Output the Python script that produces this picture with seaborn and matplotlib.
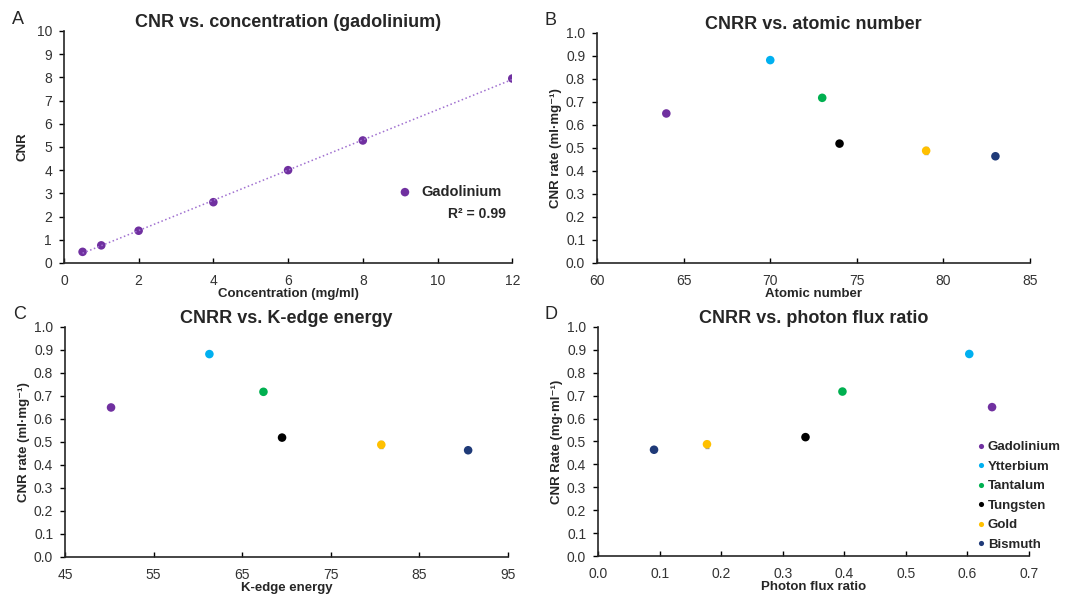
import numpy as np
import pandas as pd
import matplotlib
matplotlib.use("Agg")
import matplotlib.pyplot as plt
import seaborn as sns

# %% Data
conc = [0.5, 1, 2, 4, 6, 8, 12]
cnr = [0.48, 0.76, 1.39, 2.62, 4.00, 5.28, 7.95]

elements = ['Gadolinium', 'Ytterbium', 'Tantalum', 'Tungsten', 'Gold', 'Bismuth']
atomic_number = [64, 70, 73, 74, 79, 83]
kedge_energy = [50.2, 61.3, 67.4, 69.5, 80.7, 90.5]
flux_ratio = [0.640, 0.603, 0.397, 0.337, 0.177, 0.091]
cnrr = [0.650, 0.882, 0.718, 0.519, 0.488, 0.464]
cnrr_err = [0.004, 0.004, 0.004, 0.004, 0.016, 0.004]

colors = ['#7030A0', '#00B0F0', '#00B050', '#000000', '#FFC000', '#1F3A78']
palette = dict(zip(elements, colors))

df = pd.DataFrame({'Element': elements, 'Z': atomic_number, 'Kedge': kedge_energy,
                   'Flux': flux_ratio, 'CNRR': cnrr, 'err': cnrr_err})
conc_df = pd.DataFrame({'Concentration': conc, 'CNR': cnr})

# %% Style
sns.set_style('ticks')
plt.rcParams['font.family'] = ['Liberation Sans', 'DejaVu Sans']
plt.rcParams['axes.linewidth'] = 1.2
plt.rcParams['xtick.direction'] = 'in'
plt.rcParams['ytick.direction'] = 'out'

tick_col = '#333333'
title_kw = dict(fontsize=13, fontweight='bold', pad=-3)
label_kw = dict(fontsize=9.5, fontweight='bold')

fig = plt.figure(figsize=(10.65, 5.95), dpi=100)
axA = fig.add_axes([0.060, 0.558, 0.421, 0.390])
axB = fig.add_axes([0.5606, 0.558, 0.4066, 0.3866])
axC = fig.add_axes([0.061, 0.0639, 0.416, 0.3866])
axD = fig.add_axes([0.5615, 0.0655, 0.4047, 0.385])


def style_axis(ax):
    sns.despine(ax=ax)
    ax.tick_params(axis='both', labelsize=10, colors='black', labelcolor=tick_col,
                   length=3.5, width=1.0)
    ax.tick_params(axis='x', pad=8)
    ax.tick_params(axis='y', pad=5)


# %% Panel A
sns.regplot(data=conc_df, x='Concentration', y='CNR', ax=axA, ci=None, scatter=False,
            line_kws=dict(color='#A070D0', linestyle=':', linewidth=1.1))
sns.scatterplot(data=conc_df, x='Concentration', y='CNR', ax=axA, color='#7030A0',
                s=38, edgecolor='none', label='Gadolinium', legend=False)
axA.set_xlim(0, 12)
axA.set_ylim(0, 10)
axA.set_xticks(range(0, 13, 2))
axA.set_yticks(range(0, 11))
axA.set_title('CNR vs. concentration (gadolinium)', **title_kw)
axA.set_xlabel('Concentration (mg/ml)', labelpad=0, **label_kw)
axA.set_ylabel('CNR', labelpad=6, **label_kw)
style_axis(axA)
h, l = axA.get_legend_handles_labels()
axA.legend(h[-1:], l[-1:], loc='center left', bbox_to_anchor=(0.72, 0.306), frameon=False,
           prop=dict(weight='bold', size=10.5), handletextpad=0.4, borderpad=0,
           handlelength=1.5)
axA.text(0.985, 0.21, 'R² = 0.99', transform=axA.transAxes, ha='right', va='center',
         fontsize=10, fontweight='bold')

# %% Panels B, C, D
panels = [
    (axB, 'Z', 'CNRR vs. atomic number', 'Atomic number', 'CNR rate (ml·mg⁻¹)',
     (60, 85), np.arange(60, 86, 5)),
    (axC, 'Kedge', 'CNRR vs. K-edge energy', 'K-edge energy', 'CNR rate (ml·mg⁻¹)',
     (45, 95), np.arange(45, 96, 10)),
    (axD, 'Flux', 'CNRR vs. photon flux ratio', 'Photon flux ratio', 'CNR Rate (mg·ml⁻¹)',
     (0, 0.7), np.arange(0, 0.71, 0.1)),
]

for ax, xcol, title, xlabel, ylabel, xlim, xticks in panels:
    ax.errorbar(df[xcol], df['CNRR'], yerr=df['err'], fmt='none', ecolor='#999999',
                elinewidth=1, capsize=1.5, zorder=1)
    sns.scatterplot(data=df, x=xcol, y='CNRR', hue='Element', palette=palette, ax=ax,
                    s=38, edgecolor='none', legend=(ax is axD), zorder=3)
    ax.set_xlim(*xlim)
    ax.set_xticks(xticks)
    ax.set_ylim(0, 1.0)
    ax.set_yticks(np.arange(0, 1.01, 0.1))
    ax.yaxis.set_major_formatter(matplotlib.ticker.FormatStrFormatter('%.1f'))
    if ax is axD:
        ax.xaxis.set_major_formatter(matplotlib.ticker.FormatStrFormatter('%.1f'))
    ax.set_title(title, **title_kw)
    ax.set_xlabel(xlabel, labelpad=0, **label_kw)
    ax.set_ylabel(ylabel, labelpad=3, **label_kw)
    style_axis(ax)

h, l = axD.get_legend_handles_labels()
axD.legend(h, l, loc='upper left', bbox_to_anchor=(0.862, 0.53), frameon=False,
           prop=dict(weight='bold', size=9.5), handletextpad=0.1, borderpad=0,
           handlelength=0.8, labelspacing=0.55, markerscale=0.6)

# %% Panel letters
for letter, x, y in [('A', 0.011, 0.968), ('B', 0.511, 0.966),
                     ('C', 0.012, 0.472), ('D', 0.511, 0.472)]:
    fig.text(x, y, letter, fontsize=13, ha='left', va='center')

fig.savefig('out.png', dpi=100)
